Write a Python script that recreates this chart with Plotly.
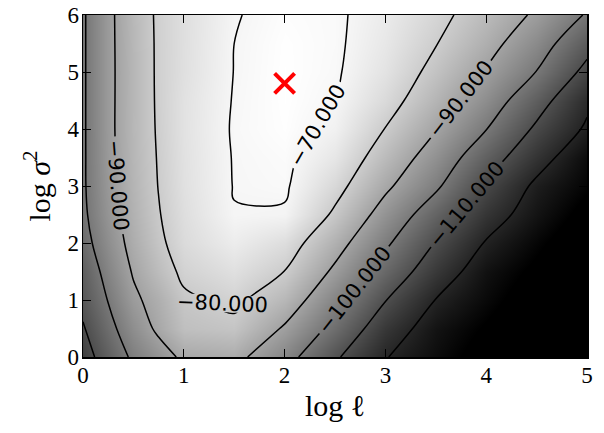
import plotly.graph_objects as go

# grid coordinates (log length-scale, log signal variance)
log_ell = [0, 0.25, 0.5, 0.75, 1, 1.5, 2, 2.5, 3, 3.5, 4, 4.5, 5]
log_sigma2 = [0, 0.5, 1, 1.5, 2, 2.5, 3, 3.5, 4, 4.5, 5, 5.5, 6]

# log marginal likelihood, one row per log_sigma2 value
lml_y0_0 = [-113.5, -105.9, -98.5, -93.5, -88.5, -87.6, -96.6, -108.8, -119.6, -125.6, -131.5, -137.0, -142.0]
lml_y0_5 = [-110.7, -102.6, -94.8, -88.5, -83.0, -81.8, -90.9, -102.6, -115.3, -124.0, -129.2, -135.0, -141.0]
lml_y1_0 = [-107.7, -99.7, -91.6, -86.8, -81.2, -78.4, -85.0, -97.0, -109.7, -120.2, -126.4, -132.5, -138.5]
lml_y1_5 = [-106.0, -97.1, -89.3, -83.6, -78.5, -75.3, -80.1, -91.5, -103.9, -115.2, -124.5, -130.0, -136.0]
lml_y2_0 = [-103.0, -94.8, -87.4, -81.5, -76.5, -72.3, -75.9, -86.6, -98.6, -110.4, -120.6, -127.3, -133.5]
lml_y2_5 = [-101.5, -93.2, -86.3, -80.4, -75.7, -70.2, -70.6, -81.3, -93.6, -105.0, -116.0, -124.0, -130.8]
lml_y3_0 = [-101.0, -92.4, -85.6, -79.8, -75.1, -69.8, -69.2, -77.2, -88.4, -98.6, -111.3, -121.6, -127.7]
lml_y3_5 = [-101.0, -92.0, -85.2, -79.5, -74.9, -69.7, -68.8, -73.8, -84.1, -94.2, -105.7, -116.5, -126.0]
lml_y4_0 = [-101.0, -91.8, -85.0, -79.2, -74.7, -69.5, -68.1, -71.2, -80.2, -89.6, -99.8, -111.4, -121.2]
lml_y4_5 = [-101.0, -91.8, -85.1, -79.0, -74.8, -69.7, -67.9, -70.0, -76.7, -85.6, -95.0, -106.3, -118.3]
lml_y5_0 = [-101.0, -91.8, -85.2, -78.9, -75.3, -69.9, -67.9, -69.3, -74.5, -82.3, -90.6, -100.2, -112.4]
lml_y5_5 = [-101.0, -91.8, -85.0, -78.9, -75.4, -70.0, -68.0, -69.1, -73.4, -79.7, -87.0, -95.8, -107.0]
lml_y6_0 = [-101.0, -91.8, -84.7, -78.8, -75.5, -70.3, -68.4, -69.1, -72.6, -77.7, -84.1, -91.3, -100.8]

lml = [lml_y0_0, lml_y0_5, lml_y1_0, lml_y1_5, lml_y2_0, lml_y2_5, lml_y3_0,
       lml_y3_5, lml_y4_0, lml_y4_5, lml_y5_0, lml_y5_5, lml_y6_0]

# contour levels
level_start, level_end, level_step = -130, -70, 10

# optimum marker
opt_log_ell = [2.0]
opt_log_sigma2 = [4.8]

fig = go.Figure()

fig.add_trace(go.Heatmap(
    x=log_ell, y=log_sigma2, z=lml, zsmooth="best",
    colorscale=[[0, "black"], [1, "white"]], zmin=-128.5, zmax=-67.8,
    showscale=False, hoverinfo="skip"))

fig.add_trace(go.Contour(
    x=log_ell, y=log_sigma2, z=lml,
    autocontour=False,
    contours=dict(coloring="none", start=level_start, end=level_end, size=level_step,
                  showlabels=True, labelformat=".3f",
                  labelfont=dict(family="DejaVu Sans", size=21, color="black")),
    line=dict(color="black", width=1.5, smoothing=1.1),
    showscale=False, hoverinfo="skip"))

fig.add_trace(go.Scatter(
    x=opt_log_ell, y=opt_log_sigma2, mode="markers",
    marker=dict(symbol="x-thin", size=20, line=dict(color="red", width=4)),
    showlegend=False, hoverinfo="skip"))

axis_common = dict(showline=True, linecolor="black", linewidth=1.5, mirror="ticks",
                   ticks="inside", ticklen=8, tickwidth=1, tickcolor="black",
                   showgrid=False, zeroline=False, automargin=False,
                   ticklabeloverflow="allow",
                   tickfont=dict(family="Liberation Serif", size=23, color="black"))

fig.update_xaxes(range=[0, 5], tickvals=[0, 1, 2, 3, 4, 5],
                 title=dict(text="log ℓ", font=dict(family="Liberation Serif", size=30, color="black"),
                            standoff=8),
                 ticklabelstandoff=-3, **axis_common)
fig.update_yaxes(range=[0, 6], tickvals=[0, 1, 2, 3, 4, 5, 6],
                 title=dict(text="log <i>σ</i><sup>2</sup>",
                            font=dict(family="Liberation Serif", size=30, color="black"),
                            standoff=8),
                 ticklabelstandoff=-2, **axis_common)

fig.update_layout(width=604, height=433, margin=dict(l=83, r=17, t=15, b=76),
                  paper_bgcolor="white", plot_bgcolor="white", showlegend=False)

# remove the page's default body margin so the figure sits at the window origin
fig.write_html("out.html", config={"displayModeBar": False, "staticPlot": True},
               post_script="document.body.style.margin='0';")
